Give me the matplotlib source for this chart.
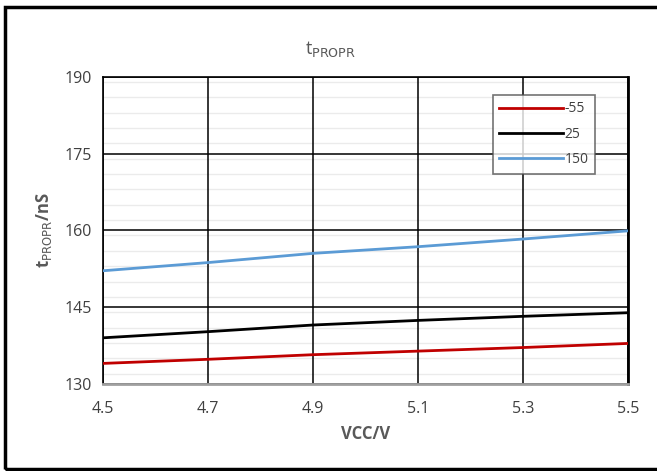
import matplotlib
matplotlib.use("Agg")
import matplotlib.pyplot as plt
from matplotlib.patches import Rectangle
from matplotlib.ticker import MultipleLocator

plt.rcParams['font.family'] = ['Open Sans', 'DejaVu Sans']

vcc = [4.5, 4.7, 4.9, 5.1, 5.3, 5.5]
t_m55 = [134.0, 134.8, 135.7, 136.4, 137.1, 137.9]
t_25 = [139.0, 140.2, 141.5, 142.4, 143.2, 143.9]
t_150 = [152.1, 153.7, 155.5, 156.8, 158.3, 159.9]
series_labels = ["-55", "25", "150"]
colors = ["#c00000", "#000000", "#5b9bd5"]

fig = plt.figure(figsize=(6.57, 4.71), dpi=100)
ax = fig.add_axes([0.157, 0.185, 0.799, 0.652])

for ys, lab, c in zip([t_m55, t_25, t_150], series_labels, colors):
    ax.plot(vcc, ys, color=c, lw=2, label=lab, zorder=3)

ax.set_xlim(4.5, 5.5)
ax.set_ylim(130, 190)
ax.set_xticks(vcc)
ax.set_yticks([130, 145, 160, 175, 190])
ax.yaxis.set_minor_locator(MultipleLocator(3))
# light minor lines under the black major grid
for y in ax.yaxis.get_minorticklocs():
    ax.axhline(y, color='#ebebeb', lw=1, zorder=0.5)
ax.grid(True, which='major', color='black', lw=1.1, zorder=1)
ax.tick_params(which='both', length=0)
ax.tick_params(labelsize=11.5, colors='#404040', pad=8)
ax.tick_params(axis='x', pad=12)
for s in ax.spines.values():
    s.set_color('black')
    s.set_linewidth(1.2)
ax.spines['bottom'].set_color('#a0a0a0')
ax.spines['bottom'].set_linewidth(2)
ax.spines['right'].set_linewidth(2)

ax.set_xlabel("VCC/V", fontsize=12, fontweight='bold', color='#595959', labelpad=6)
ax.set_ylabel(r"t$_{\mathrm{PROPR}}$/nS", fontsize=12, fontweight='bold', color='#595959', labelpad=8)
fig.text(0.503, 0.897, r"t$_{\mathrm{PROPR}}$", fontsize=13, color='#595959', ha='center', va='center')

leg = ax.legend(loc='upper right', bbox_to_anchor=(0.937, 0.94), fontsize=10,
                frameon=True, fancybox=False, edgecolor='#505050',
                handlelength=4.6, handletextpad=0.1, labelspacing=0.75,
                borderpad=0.45, borderaxespad=0)
leg.get_frame().set_linewidth(1.2)
for t in leg.get_texts():
    t.set_color('#404040')

fig.patches.append(Rectangle((5 / 657, 2 / 471), 1.1, 462 / 471, transform=fig.transFigure,
                             fill=False, edgecolor='black', lw=2.5))

fig.savefig("out.png", dpi=100)
